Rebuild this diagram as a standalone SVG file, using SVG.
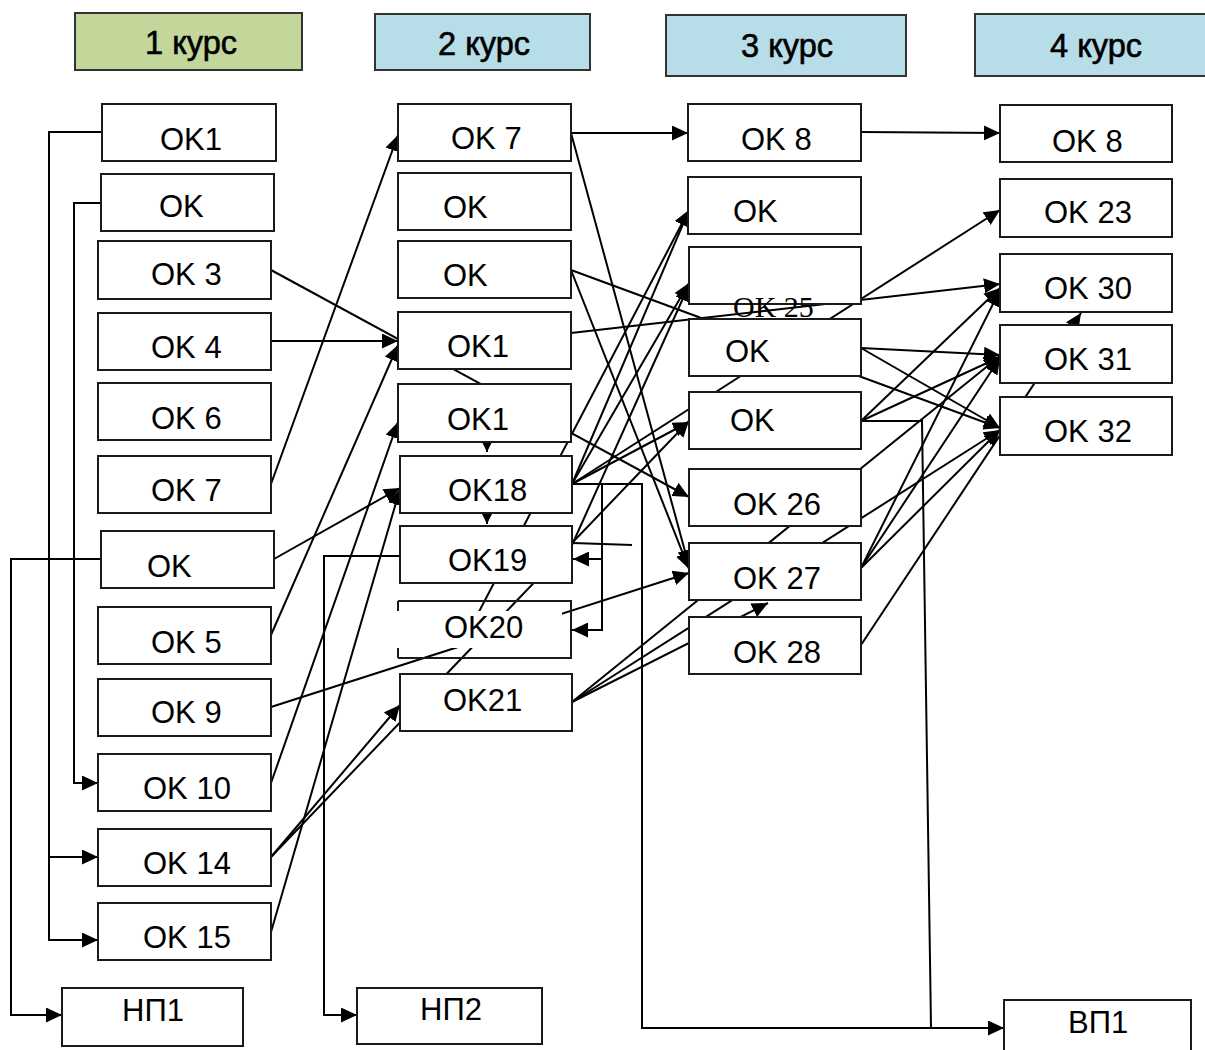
<svg xmlns="http://www.w3.org/2000/svg" width="1205" height="1050" viewBox="0 0 1205 1050">
<style>
.box{fill:#fff;stroke:#1a1a1a;stroke-width:2}
.hg{fill:#c4d79b;stroke:#333;stroke-width:2}
.hb{fill:#b7dde8;stroke:#333;stroke-width:2}
.t{font-family:"Liberation Sans",Arial,sans-serif;font-size:31px;fill:#000}
.ht{font-family:"Liberation Sans",Arial,sans-serif;font-size:33px;fill:#000;stroke:#000;stroke-width:0.6;text-anchor:middle}
.s{font-family:"Liberation Serif","Times New Roman",serif;font-size:30px;fill:#000}
.ln{stroke:#000;stroke-width:2;fill:none}
.a{marker-end:url(#ah)}
.as{marker-end:url(#ahs)}
</style>
<defs>
<marker id="ah" markerUnits="userSpaceOnUse" markerWidth="17" markerHeight="15" refX="16" refY="7.5" orient="auto"><path d="M0,0 L16,7.5 L0,15 z" fill="#000"/></marker>
<marker id="ahs" markerUnits="userSpaceOnUse" markerWidth="12" markerHeight="12" refX="11" refY="5.5" orient="auto"><path d="M0,0 L11,5.5 L0,11 z" fill="#000"/></marker>
</defs>

<g id="headers">
<g id="h1"><rect class="hg" x="75" y="13" width="227" height="57"/><text class="ht" x="191" y="54" textLength="92" lengthAdjust="spacingAndGlyphs">1 курс</text></g>
<g id="h2"><rect class="hb" x="375" y="14" width="215" height="56"/><text class="ht" x="484" y="55" textLength="92" lengthAdjust="spacingAndGlyphs">2 курс</text></g>
<g id="h3"><rect class="hb" x="666" y="15" width="240" height="61"/><text class="ht" x="787" y="57" textLength="92" lengthAdjust="spacingAndGlyphs">3 курс</text></g>
<g id="h4"><rect class="hb" x="975" y="14" width="240" height="62"/><text class="ht" x="1096" y="57" textLength="92" lengthAdjust="spacingAndGlyphs">4 курс</text></g>
</g>

<g id="connectors" class="ln">
<path class="a" d="M102,132 H49 V940 H98"/>
<path class="a" d="M49,857 H98"/>
<path class="a" d="M101,203 H74 V783 H98"/>
<path class="a" d="M101,559 H11 V1015 H62"/>
<path class="a" d="M400,556 H324 V1015 H357"/>
<path class="a" d="M572,484 H642 V1028 H1004"/>
<path d="M861,421 H922 L931,1028"/>
<path class="a" d="M602,484 V630 H572"/>
<path class="a" d="M602,559 H573"/>
<path d="M573,543 L632,545"/>
<path class="a" d="M271,270 L689,497"/>
<path class="a" d="M271,341 L398,341"/>
<path class="a" d="M271,484 L398,135"/>
<path class="a" d="M274,559 L400,488"/>
<path class="a" d="M271,635 L398,345"/>
<path class="a" d="M271,707 L689,573"/>
<path class="a" d="M271,783 L398,422"/>
<path class="a" d="M271,857 L400,705"/>
<path class="a" d="M271,857 L689,421"/>
<path class="a" d="M271,932 L400,489"/>
<path class="a" d="M461,646 L689,210"/>
<path class="as" d="M487,441 L487,452"/>
<path class="as" d="M487,513 L487,524"/>
<path class="a" d="M571,133 L688,133"/>
<path class="a" d="M571,133 L689,566"/>
<path class="a" d="M571,270 L1000,428"/>
<path class="a" d="M571,270 L689,569"/>
<path class="a" d="M571,333 L1000,284"/>
<path class="a" d="M572,484 L1000,210"/>
<path class="a" d="M572,484 L689,210"/>
<path class="a" d="M572,484 L689,283"/>
<path class="a" d="M572,484 L689,422"/>
<path class="a" d="M572,545 L689,285"/>
<path class="a" d="M572,702 L1000,356"/>
<path class="a" d="M572,702 L1000,430"/>
<path class="a" d="M572,702 L768,603"/>
<path class="a" d="M861,132 L1000,133"/>
<path class="a" d="M861,348 L1000,355"/>
<path class="a" d="M861,348 L1000,428"/>
<path class="a" d="M861,421 L1000,288"/>
<path class="a" d="M861,421 L1000,357"/>
<path class="a" d="M861,568 L1000,290"/>
<path class="a" d="M861,568 L1000,358"/>
<path class="a" d="M861,568 L1000,430"/>
<path class="a" d="M861,645 L1081,313"/>
</g>

<g id="nodes">
<g id="c1-ok1"><rect class="box" x="102" y="104" width="174" height="57"/><text class="t" x="160" y="150">OK1</text></g>
<g id="c1-ok-a"><rect class="box" x="101" y="174" width="173" height="57"/><text class="t" x="159" y="217">OK</text></g>
<g id="c1-ok3"><rect class="box" x="98" y="241" width="173" height="58"/><text class="t" x="151" y="285">OK 3</text></g>
<g id="c1-ok4"><rect class="box" x="98" y="313" width="173" height="57"/><text class="t" x="151" y="358">OK 4</text></g>
<g id="c1-ok6"><rect class="box" x="98" y="383" width="173" height="57"/><text class="t" x="151" y="429">OK 6</text></g>
<g id="c1-ok7"><rect class="box" x="98" y="456" width="173" height="57"/><text class="t" x="151" y="501">OK 7</text></g>
<g id="c1-ok-b"><rect class="box" x="101" y="531" width="173" height="57"/><text class="t" x="147" y="577">OK</text></g>
<g id="c1-ok5"><rect class="box" x="98" y="607" width="173" height="57"/><text class="t" x="151" y="653">OK 5</text></g>
<g id="c1-ok9"><rect class="box" x="98" y="679" width="173" height="57"/><text class="t" x="151" y="723">OK 9</text></g>
<g id="c1-ok10"><rect class="box" x="98" y="754" width="173" height="57"/><text class="t" x="143" y="799">OK 10</text></g>
<g id="c1-ok14"><rect class="box" x="98" y="829" width="173" height="57"/><text class="t" x="143" y="874">OK 14</text></g>
<g id="c1-ok15"><rect class="box" x="98" y="903" width="173" height="57"/><text class="t" x="143" y="948">OK 15</text></g>
<g id="np1"><rect class="box" x="62" y="988" width="181" height="58"/><text class="t" x="122" y="1021">НП1</text></g>
<g id="np2"><rect class="box" x="357" y="988" width="185" height="56"/><text class="t" x="420" y="1020">НП2</text></g>

<g id="c2-ok7"><rect class="box" x="398" y="104" width="173" height="57"/><text class="t" x="451" y="149">OK 7</text></g>
<g id="c2-ok-a"><rect class="box" x="398" y="173" width="173" height="57"/><text class="t" x="443" y="218">OK</text></g>
<g id="c2-ok-b"><rect class="box" x="398" y="241" width="173" height="57"/><text class="t" x="443" y="286">OK</text></g>
<g id="c2-ok1-a"><rect class="box" x="398" y="312" width="173" height="57"/><text class="t" x="447" y="357">OK1</text></g>
<g id="c2-ok1-b"><rect class="box" x="398" y="384" width="173" height="58"/><text class="t" x="447" y="430">OK1</text></g>
<g id="c2-ok18"><rect class="box" x="400" y="456" width="172" height="57"/><text class="t" x="448" y="501">OK18</text></g>
<g id="c2-ok19"><rect class="box" x="400" y="526" width="172" height="57"/><text class="t" x="448" y="571">OK19</text></g>
<g id="c2-ok20"><rect x="401" y="611" width="161" height="37" fill="#fff"/><path d="M398,601 H571 V658 H398 M398,601 V611 M398,648 V658" fill="none" stroke="#1a1a1a" stroke-width="2"/><text class="t" x="444" y="638">OK20</text></g>
<g id="c2-ok21"><rect class="box" x="400" y="674" width="172" height="57"/><text class="t" x="443" y="711">OK21</text></g>

<g id="c3-ok8"><rect class="box" x="688" y="104" width="173" height="57"/><text class="t" x="741" y="150">OK 8</text></g>
<g id="c3-ok-a"><rect class="box" x="688" y="177" width="173" height="57"/><text class="t" x="733" y="222">OK</text></g>
<g id="c3-ok25"><rect class="box" x="689" y="247" width="172" height="57"/><text class="s" x="733" y="317">OK 25</text></g>
<g id="c3-ok-b"><rect class="box" x="689" y="319" width="172" height="57"/><text class="t" x="725" y="362">OK</text></g>
<g id="c3-ok-c"><rect class="box" x="689" y="392" width="172" height="57"/><text class="t" x="730" y="431">OK</text></g>
<g id="c3-ok26"><rect class="box" x="689" y="469" width="172" height="57"/><text class="t" x="733" y="515">OK 26</text></g>
<g id="c3-ok27"><rect class="box" x="689" y="543" width="172" height="57"/><text class="t" x="733" y="589">OK 27</text></g>
<g id="c3-ok28"><rect class="box" x="689" y="617" width="172" height="57"/><text class="t" x="733" y="663">OK 28</text></g>

<g id="c4-ok8"><rect class="box" x="1000" y="105" width="172" height="57"/><text class="t" x="1052" y="152">OK 8</text></g>
<g id="c4-ok23"><rect class="box" x="1000" y="179" width="172" height="58"/><text class="t" x="1044" y="223">OK 23</text></g>
<g id="c4-ok30"><rect class="box" x="1000" y="254" width="172" height="58"/><text class="t" x="1044" y="299">OK 30</text></g>
<g id="c4-ok31"><rect class="box" x="1000" y="325" width="172" height="58"/><text class="t" x="1044" y="370">OK 31</text></g>
<g id="c4-ok32"><rect class="box" x="1000" y="397" width="172" height="58"/><text class="t" x="1044" y="442">OK 32</text></g>
<g id="vp1"><rect class="box" x="1004" y="1000" width="187" height="60"/><text class="t" x="1068" y="1033">ВП1</text></g>
</g>
</svg>
